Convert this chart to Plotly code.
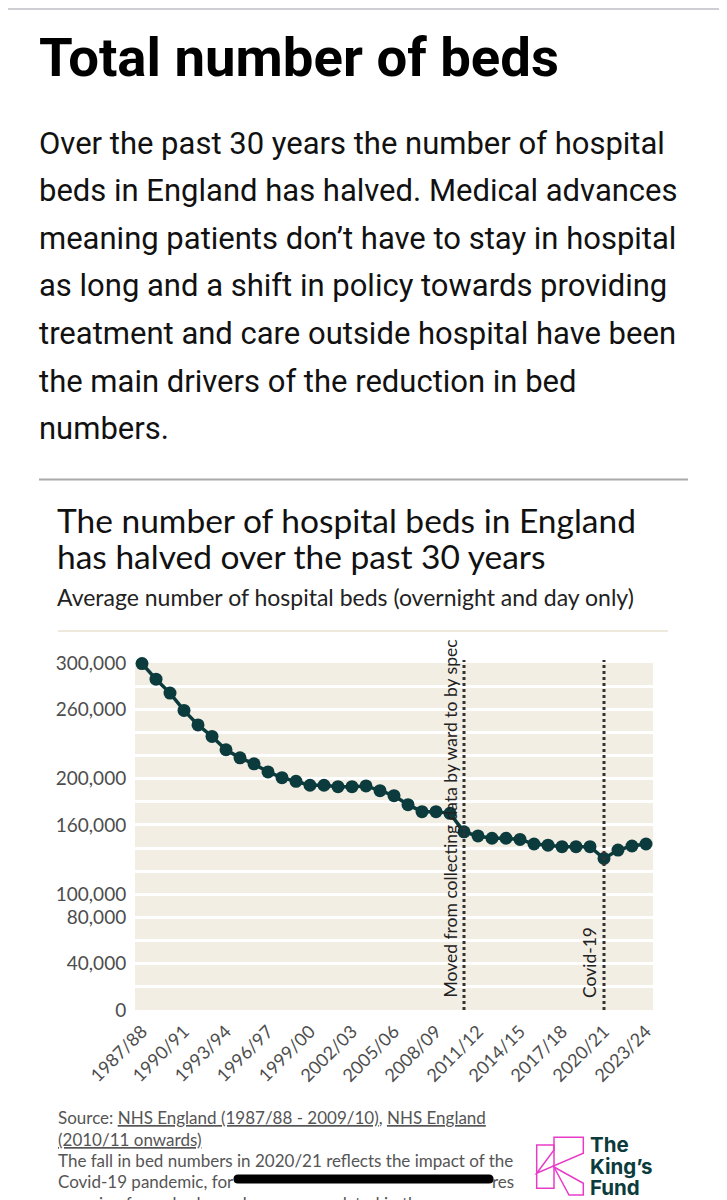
import plotly.graph_objects as go

# ---------------- data ----------------
years = ["1987/88", "1988/89", "1989/90", "1990/91", "1991/92", "1992/93", "1993/94", "1994/95",
         "1995/96", "1996/97", "1997/98", "1998/99", "1999/00", "2000/01", "2001/02", "2002/03",
         "2003/04", "2004/05", "2005/06", "2006/07", "2007/08", "2008/09", "2009/10", "2010/11",
         "2011/12", "2012/13", "2013/14", "2014/15", "2015/16", "2016/17", "2017/18", "2018/19",
         "2019/20", "2020/21", "2021/22", "2022/23", "2023/24"]
beds = [299500, 286000, 274000, 259000, 246500, 236500, 225000, 218000,
        212800, 205800, 200900, 197700, 194300, 194300, 193100, 193100,
        193700, 189600, 185300, 177500, 171500, 171500, 170000, 154000,
        150500, 148500, 148500, 147500, 143500, 142500, 141200, 141200,
        141200, 131000, 138300, 141800, 143500]
x_tick_years = years[::3]
y_grid_values = list(range(0, 300001, 20000))
y_labelled = [0, 40000, 80000, 100000, 160000, 200000, 260000, 300000]
marker_events = [("2010/11", "Moved from collecting data by ward to by spec"),
                 ("2020/21", "Covid-19")]

# ---------------- page geometry helpers ----------------
PAGE_W, PAGE_H = 727, 1200
OFF = 8                      # default page body margin
W, H = PAGE_W - OFF, PAGE_H - OFF
L, R, T, B = 135, 653, 663, 1010   # plot area in page pixels


def fx(px):
    return (px - L) / (R - L)


def fy(py):
    return (B - py) / (B - T)


TEAL = "#0b3b3c"
BEIGE = "#f3eee4"
GREY = "#4d4d4d"

fig = go.Figure()
fig.add_trace(go.Scatter(
    x=list(range(len(years))), y=beds, mode="lines+markers",
    line=dict(color=TEAL, width=3.5),
    marker=dict(color=TEAL, size=13),
    cliponaxis=False, hoverinfo="skip", showlegend=False))

ytext = [f"{v:,}" if v in y_labelled else "" for v in y_grid_values]

fig.update_layout(
    width=W, height=H,
    margin=dict(l=L - OFF, r=PAGE_W - R, t=T - OFF, b=PAGE_H - B, autoexpand=False),
    paper_bgcolor="white", plot_bgcolor=BEIGE,
    showlegend=False,
    xaxis=dict(range=[-0.5, len(years) - 0.5],
               tickvals=[years.index(y) for y in x_tick_years], ticktext=x_tick_years,
               tickangle=-45, showgrid=False, zeroline=False, showline=False,
               ticks="outside", ticklen=3, tickcolor="rgba(0,0,0,0)",
               tickfont=dict(family="Lato", size=18, color=GREY), automargin=False),
    yaxis=dict(range=[0, 300000], tickvals=y_grid_values, ticktext=ytext,
               showgrid=True, gridcolor="white", gridwidth=3, zeroline=False, showline=False,
               ticks="outside", ticklen=4, tickcolor="rgba(0,0,0,0)",
               tickfont=dict(family="Lato", size=19, color=GREY), automargin=False),
)

shapes = []
annotations = []

# event lines
for yr, label in marker_events:
    xi = years.index(yr)
    shapes.append(dict(type="line", xref="x", yref="paper", x0=xi, x1=xi, y0=0, y1=fy(660),
                       line=dict(color="#333333", width=3, dash="3px,3px"), layer="above"))
    annotations.append(dict(x=xi, y=0, xref="x", yref="paper", text=label, textangle=-90,
                            xanchor="right", yanchor="bottom", xshift=-2, yshift=10,
                            showarrow=False, font=dict(family="Lato", size=17.5, color="#222222")))

# page rules
shapes.append(dict(type="line", xref="paper", yref="paper", x0=fx(OFF), x1=fx(727), y0=fy(9), y1=fy(9),
                   line=dict(color="#cfcfd3", width=2)))
shapes.append(dict(type="line", xref="paper", yref="paper", x0=fx(39), x1=fx(688), y0=fy(479.5), y1=fy(479.5),
                   line=dict(color="#aaaaaa", width=2)))
shapes.append(dict(type="line", xref="paper", yref="paper", x0=fx(58), x1=fx(668), y0=fy(631), y1=fy(631),
                   line=dict(color="#eee9dd", width=2)))


def text(px, py, s, size, color="#111111", family="Lato", weight=None, anchor="left"):
    f = dict(family=family, size=size, color=color)
    if weight:
        f["weight"] = weight
    annotations.append(dict(x=fx(px), y=fy(py), xref="paper", yref="paper", text=s,
                            xanchor=anchor, yanchor="middle", showarrow=False, font=f))


# headline
text(37, 57, "Total number of beds", 54.5, "#000000", "Roboto", 700)

para = ["Over the past 30 years the number of hospital",
        "beds in England has halved. Medical advances",
        "meaning patients don’t have to stay in hospital",
        "as long and a shift in policy towards providing",
        "treatment and care outside hospital have been",
        "the main drivers of the reduction in bed",
        "numbers."]
for i, line in enumerate(para):
    text(37, 143 + 47.6 * i, line, 31, "#111111", "Roboto")

# chart titles
text(55, 520, "The number of hospital beds in England", 33.5, "#111111", "Lato")
text(55, 556, "has halved over the past 30 years", 33.5, "#111111", "Lato")
text(55, 597, "Average number of hospital beds (overnight and day only)", 23, "#222222", "Lato")

# source / notes
SRC = "#555555"
text(56, 1117, "Source: <u>NHS England (1987/88 - 2009/10)</u>, <u>NHS England</u>", 17, SRC)
text(56, 1139, "<u>(2010/11 onwards)</u>", 17, SRC)
text(56, 1160, "The fall in bed numbers in 2020/21 reflects the impact of the", 17, SRC)
text(56, 1181, "Covid-19 pandemic, for", 17, SRC)
text(490, 1181, "res", 17, SRC)
text(56, 1203, "meaning fewer beds can be accommodated in the same", 17, SRC)

# redaction bar
x0, x1, yc, r = 238, 489, 1179, 4.5
bar = (f"M {fx(x0)},{fy(yc - r)} L {fx(x1)},{fy(yc - r)} "
       f"Q {fx(x1 + r)},{fy(yc - r)} {fx(x1 + r)},{fy(yc)} "
       f"Q {fx(x1 + r)},{fy(yc + r)} {fx(x1)},{fy(yc + r)} "
       f"L {fx(x0)},{fy(yc + r)} "
       f"Q {fx(x0 - r)},{fy(yc + r)} {fx(x0 - r)},{fy(yc)} "
       f"Q {fx(x0 - r)},{fy(yc - r)} {fx(x0)},{fy(yc - r)} Z")
shapes.append(dict(type="path", xref="paper", yref="paper", path=bar,
                   fillcolor="black", line=dict(color="black", width=0)))

# logo (K outline)
PINK = "#e83cc8"


def poly(pts, closed=True):
    p = "M " + " L ".join(f"{fx(a)},{fy(b)}" for a, b in pts)
    return p + (" Z" if closed else "")


shapes.append(dict(type="path", xref="paper", yref="paper",
                   path=poly([(536.7, 1145), (554, 1145), (554, 1188.3), (536.7, 1188.3)]),
                   line=dict(color=PINK, width=1.5)))
shapes.append(dict(type="path", xref="paper", yref="paper",
                   path=poly([(554, 1137.3), (583.3, 1137.3), (583.3, 1153.3), (536.7, 1173.3), (554, 1150)]),
                   line=dict(color=PINK, width=1.5)))
shapes.append(dict(type="path", xref="paper", yref="paper",
                   path=poly([(554, 1167), (583.3, 1183.3), (583.3, 1195), (569, 1195), (554, 1167)]),
                   line=dict(color=PINK, width=1.5)))
text(588, 1144, "The", 20.5, TEAL, "Inter", 700)
text(588, 1166, "King’s", 20.5, TEAL, "Inter", 700)
text(588, 1187, "Fund", 20.5, TEAL, "Inter", 700)

fig.update_layout(shapes=shapes, annotations=annotations)
fig.write_html("out.html")
